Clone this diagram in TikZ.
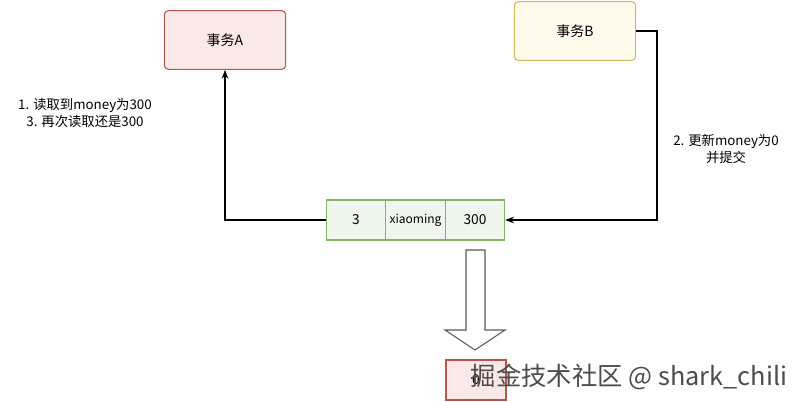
\documentclass[tikz,border=0pt]{standalone}
\usepackage{fontspec}
\setmainfont{Noto Sans CJK SC}
\usetikzlibrary{arrows.meta}
\definecolor{redline}{HTML}{B85450}
\definecolor{redfill}{HTML}{FBE9E8}
\definecolor{yellowline}{HTML}{D6B656}
\definecolor{yellowfill}{HTML}{FFFAEB}
\definecolor{greenline}{HTML}{82B366}
\definecolor{greenfill}{HTML}{EEF6ED}
\tikzset{
  txbox/.style={draw,rounded corners=3pt,minimum width=91pt,minimum height=44pt,font=\fontsize{10.5}{12}\selectfont},
  cell/.style={draw=greenline,fill=greenfill,minimum width=44.5pt,minimum height=30pt,inner sep=0pt,font=\fontsize{10.3}{12}\selectfont}
}
\begin{document}
\begin{tikzpicture}[x=0.75pt,y=-0.75pt,>=Stealth,line width=0.8pt]
  \useasboundingbox (0,0) rectangle (796,401);

  \node[txbox,draw=redline,fill=redfill] (A) at (225,40) {事务A};
  \node[txbox,draw=yellowline,fill=yellowfill] (B) at (575,31) {事务B};

  \begin{scope}[every node/.style={cell}]
    \node (id) at (356,220) {3};
    \node (name) at (415.5,220) {\fontsize{9}{11}\selectfont xiaoming};
    \node (money) at (475,220) {300};
  \end{scope}

  \coordinate (Bturn) at (657,220);

  \begin{scope}[every node/.style={align=center,font=\fontsize{10}{13}\selectfont}]
    \node (readlbl) at (85,113) {1. 读取到money为300\\3. 再次读取还是300};
    \node (writelbl) at (726,149) {2. 更新money为0\\并提交};
  \end{scope}

  \draw[->] (id.west) -| (A.south);
  \draw[->] (B.east) -| (Bturn) -- (money.east);

  % hollow arrow down to the result
  \draw[gray!70!black,fill=white] (466,250) -- (485,250) -- (485,330) -- (505,330)
    -- (475,350) -- (445,330) -- (466,330) -- cycle;

  \node[draw=redline,fill=redfill,minimum width=45pt,minimum height=30pt,
    font=\fontsize{10.3}{12}\selectfont] (res) at (476,380) {0};

  \node[anchor=west,text=gray!60!black,font=\fontsize{19}{21}\selectfont] (mark) at (466,377) {掘金技术社区 @ shark\_chili};
\end{tikzpicture}
\end{document}
